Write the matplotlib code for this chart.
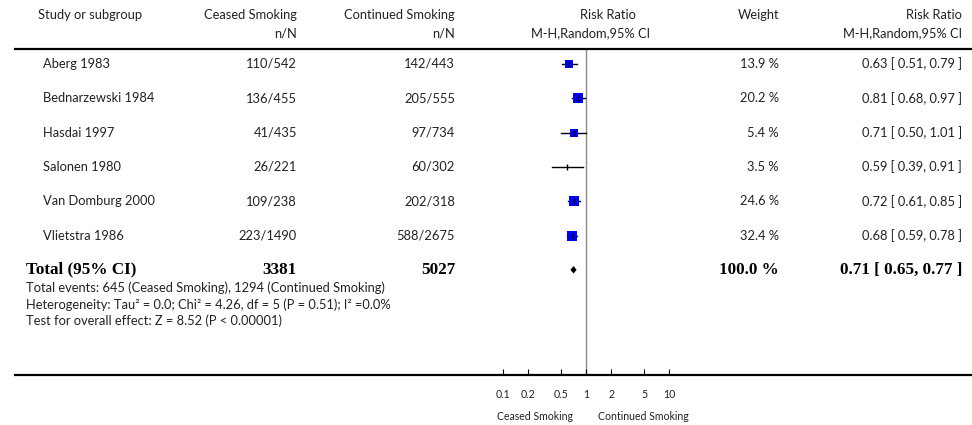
import matplotlib
matplotlib.use("Agg")
import matplotlib.pyplot as plt
from matplotlib.lines import Line2D
from matplotlib.ticker import NullLocator
from matplotlib.transforms import blended_transform_factory
import numpy as np

W, H = 972, 425

# study data
studies = ["Aberg 1983", "Bednarzewski 1984", "Hasdai 1997", "Salonen 1980",
           "Van Domburg 2000", "Vlietstra 1986"]
ceased_events = [110, 136, 41, 26, 109, 223]
ceased_total = [542, 455, 435, 221, 238, 1490]
continued_events = [142, 205, 97, 60, 202, 588]
continued_total = [443, 555, 734, 302, 318, 2675]
rr = [0.63, 0.81, 0.71, 0.59, 0.72, 0.68]
rr_low = [0.51, 0.68, 0.50, 0.39, 0.61, 0.59]
rr_high = [0.79, 0.97, 1.01, 0.91, 0.85, 0.78]
weights = [13.9, 20.2, 5.4, 3.5, 24.6, 32.4]

# pooled result
total_rr, total_low, total_high = 0.71, 0.65, 0.77
tau2, chi2, df, p_het, i2 = 0.0, 4.26, 5, 0.51, 0.0
z_value = 8.52

tick_values = [0.1, 0.2, 0.5, 1, 2, 5, 10]
tick_labels = ["0.1", "0.2", "0.5", "1", "2", "5", "10"]

plt.rcParams['font.family'] = ['Lato', 'DejaVu Sans']
TXT = '#222222'
FS = 9.3
BOLD = dict(family=['Liberation Serif', 'DejaVu Serif'], fontweight='bold', fontsize=12.3)


def fx(px):
  return px / W


def fy(py):
  return 1 - py / H


fig = plt.figure(figsize=(W / 100, H / 100), dpi=100)

# forest panel from x=15 px to the right edge; 1 sits at x=586 px, one decade = 83.3 px
left_px, top_px, bot_px = 15, 49, 375
null_px, decade_px = 586, 83.3
row0_px, row_step = 64, 34.3
ax = fig.add_axes([fx(left_px), fy(bot_px), 1 - fx(left_px), (bot_px - top_px) / H])
ax.set_xscale('log')
ax.set_xlim(10 ** ((left_px - null_px) / decade_px), 10 ** ((W - null_px) / decade_px))
ax.set_ylim((bot_px - row0_px) / row_step, (top_px - row0_px) / row_step)
ax.patch.set_alpha(0)
for side in ['top', 'left', 'right']:
  ax.spines[side].set_visible(False)
ax.spines['bottom'].set_linewidth(1.6)
ax.set_yticks([])
ax.set_xticks(tick_values)
ax.set_xticklabels(tick_labels)
ax.xaxis.set_minor_locator(NullLocator())
ax.tick_params(axis='x', direction='in', length=4, width=0.8, pad=10,
               labelsize=7.6, labelcolor=TXT)

ax.axvline(1, color='#8a8a8a', lw=1, zorder=1)

# study markers (square side grows with weight, tiny weights get no box)
max_w = max(weights)
for i in range(len(studies)):
  ax.plot([rr_low[i], rr_high[i]], [i, i], color='black', lw=1, zorder=2)
  if weights[i] >= 4:
    side_px = 5.5 + 4.5 * np.sqrt(weights[i] / max_w)
    ax.plot(rr[i], i, marker='s', markersize=side_px * 0.72, color='#0000ff',
            mec='#0000ff', mew=0, zorder=3)
  ax.plot(rr[i], i, marker='|', markersize=4, color='black', mew=1, zorder=4)

# pooled diamond
total_row = len(studies)
half_h = 0.11
ax.fill([total_low, total_rr, total_high, total_rr],
        [total_row, total_row - half_h, total_row, total_row + half_h],
        color='black', lw=0, zorder=4)

# header rule
fig.add_artist(Line2D([fx(left_px), 1], [fy(top_px), fy(top_px)], transform=fig.transFigure,
                      color='black', lw=1.6))

# headers
fig.text(fx(38), fy(15), "Study or subgroup", fontsize=FS, color=TXT, va='center')
fig.text(fx(297), fy(15), "Ceased Smoking", fontsize=FS, color=TXT, va='center', ha='right')
fig.text(fx(297), fy(33), "n/N", fontsize=FS, color=TXT, va='center', ha='right')
fig.text(fx(455), fy(15), "Continued Smoking", fontsize=FS, color=TXT, va='center', ha='right')
fig.text(fx(455), fy(33), "n/N", fontsize=FS, color=TXT, va='center', ha='right')
fig.text(fx(608), fy(15), "Risk Ratio", fontsize=FS, color=TXT, va='center', ha='center')
fig.text(fx(591), fy(33), "M-H,Random,95% CI", fontsize=FS, color=TXT, va='center', ha='center')
fig.text(fx(779), fy(15), "Weight", fontsize=FS, color=TXT, va='center', ha='right')
fig.text(fx(962), fy(15), "Risk Ratio", fontsize=FS, color=TXT, va='center', ha='right')
fig.text(fx(962), fy(33), "M-H,Random,95% CI", fontsize=FS, color=TXT, va='center', ha='right')

# table rows
trans = blended_transform_factory(fig.transFigure, ax.transData)
for i, name in enumerate(studies):
  ax.text(fx(43), i, name, transform=trans, fontsize=FS, color=TXT, va='center')
  ax.text(fx(297), i, f"{ceased_events[i]}/{ceased_total[i]}", transform=trans,
          fontsize=FS, color=TXT, va='center', ha='right')
  ax.text(fx(455), i, f"{continued_events[i]}/{continued_total[i]}", transform=trans,
          fontsize=FS, color=TXT, va='center', ha='right')
  ax.text(fx(779), i, f"{weights[i]:.1f} %", transform=trans,
          fontsize=FS, color=TXT, va='center', ha='right')
  ax.text(fx(962), i, f"{rr[i]:.2f} [ {rr_low[i]:.2f}, {rr_high[i]:.2f} ]", transform=trans,
          fontsize=FS, color=TXT, va='center', ha='right')

# total row
ax.text(fx(26), total_row, "Total (95% CI)", transform=trans, color='black', va='center', **BOLD)
ax.text(fx(297), total_row, f"{sum(ceased_total)}", transform=trans, color='black',
        va='center', ha='right', **BOLD)
ax.text(fx(455), total_row, f"{sum(continued_total)}", transform=trans, color='black',
        va='center', ha='right', **BOLD)
ax.text(fx(779), total_row, f"{sum(weights):.1f} %", transform=trans, color='black',
        va='center', ha='right', **BOLD)
ax.text(fx(962), total_row, f"{total_rr:.2f} [ {total_low:.2f}, {total_high:.2f} ]",
        transform=trans, color='black', va='center', ha='right', **BOLD)

# footnotes
fig.text(fx(26), fy(288),
         f"Total events: {sum(ceased_events)} (Ceased Smoking), {sum(continued_events)} (Continued Smoking)",
         fontsize=FS, color=TXT, va='center')
fig.text(fx(26), fy(305),
         f"Heterogeneity: Tau² = {tau2:.1f}; Chi² = {chi2:.2f}, df = {df} (P = {p_het:.2f}); I² ={i2:.1f}%",
         fontsize=FS, color=TXT, va='center')
fig.text(fx(26), fy(321), f"Test for overall effect: Z = {z_value:.2f} (P < 0.00001)",
         fontsize=FS, color=TXT, va='center')

# favours labels
fig.text(fx(573), fy(416), "Ceased Smoking", fontsize=7.6, color=TXT, va='center', ha='right')
fig.text(fx(598), fy(416), "Continued Smoking", fontsize=7.6, color=TXT, va='center', ha='left')

fig.savefig("out.png", dpi=100)
